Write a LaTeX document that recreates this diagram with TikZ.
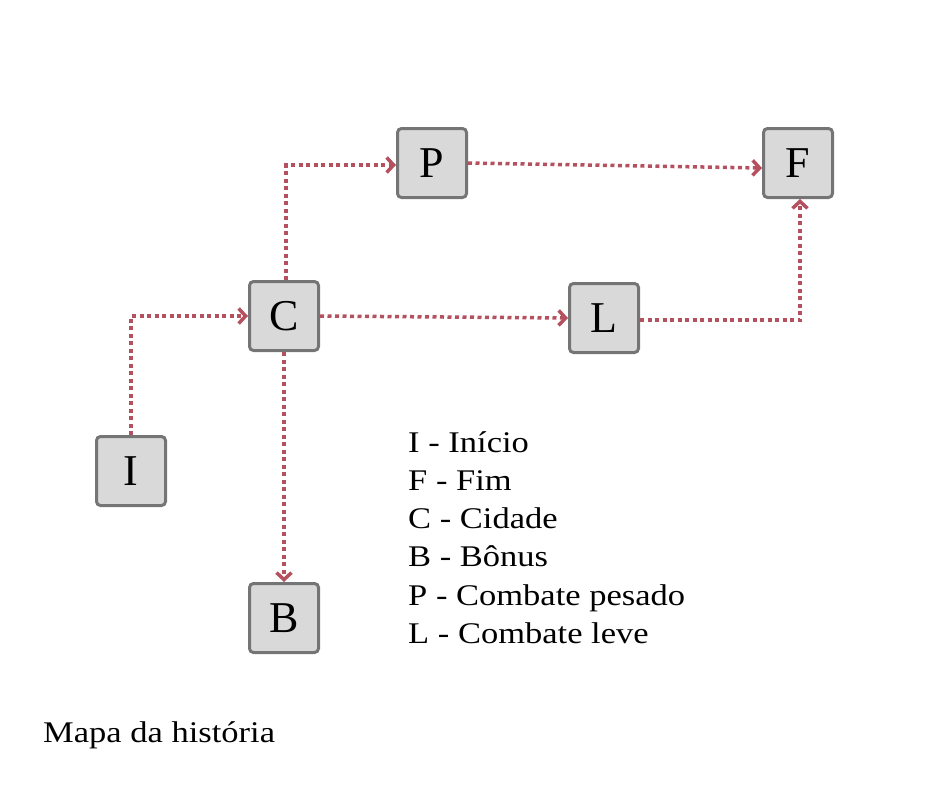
\documentclass[tikz,border=0pt]{standalone}
\usepackage{fontspec}
\setmainfont{Liberation Serif}
\newfontfamily\legfont{Liberation Serif}[FakeStretch=1.15]
\usetikzlibrary{arrows.meta}
\definecolor{boxfill}{HTML}{D9D9D9}
\definecolor{boxline}{HTML}{757575}
\definecolor{arr}{HTML}{B5505F}
\tikzset{
  room/.style={draw=boxline, fill=boxfill, line width=3pt, rounded corners=4pt,
    minimum width=69pt, minimum height=69pt, inner sep=0pt,
    font=\fontsize{44}{50}\selectfont},
  link/.style={draw=arr, line width=3.5pt, dash pattern=on 4pt off 3.5pt,
    -{Straight Barb[length=7pt,width=15pt,line width=3.5pt]}},
  legend/.style={anchor=base west, inner sep=0pt, font=\legfont\fontsize{30}{36}\selectfont}
}
\begin{document}
\begin{tikzpicture}[x=1pt,y=-1pt]
\useasboundingbox (0,0) rectangle (940,788);
\node[room] (P) at (432,163) {P};
\node[room] (F) at (798,163) {F};
\node[room] (C) at (284,316) {C};
\node[room] (L) at (604,318) {L};
\node[room] (I) at (131,471) {I};
\node[room] (B) at (284,618) {B};

\draw[link] (I.north) |- (C.west);
\draw[link] ([xshift=2pt]C.north) |- ([yshift=-2pt]P.west);
\draw[link] (C.east) -- (L.west);
\draw[link] (C.south) -- (B.north);
\draw[link] (P.east) -- ([yshift=-5pt]F.west);
\draw[link] ([yshift=-2pt]L.east) -| ([xshift=2pt]F.south);

\node[legend] (l1) at (408,452) {I - Início};
\node[legend] (l2) at (408,490.3) {F - Fim};
\node[legend] (l3) at (408,528.6) {C - Cidade};
\node[legend] (l4) at (408,566.9) {B - Bônus};
\node[legend] (l5) at (408,605.2) {P - Combate pesado};
\node[legend] (l6) at (408,643.5) {L - Combate leve};

\node[legend] (title) at (43,742) {Mapa da história};
\end{tikzpicture}
\end{document}
